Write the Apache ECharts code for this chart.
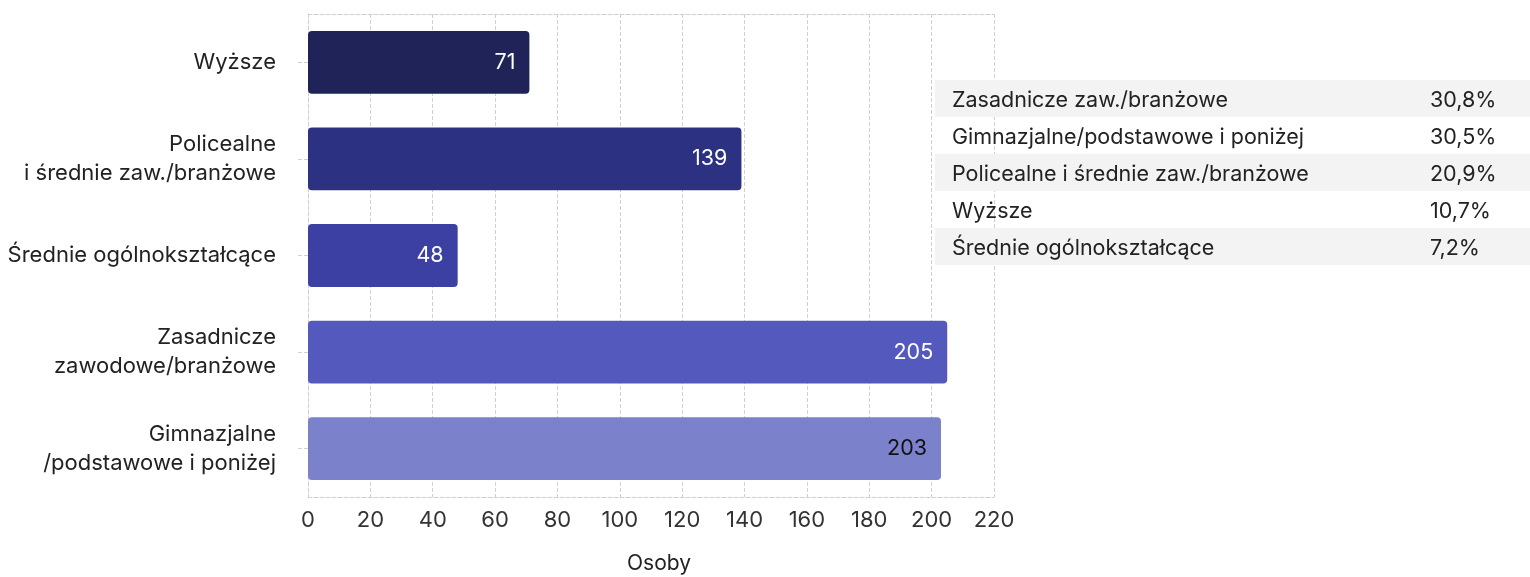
<!DOCTYPE html>
<html>
<head>
<meta charset="utf-8">
<script src="https://cdn.jsdelivr.net/npm/echarts@6/dist/echarts.min.js"></script>
<style>
  html, body { margin: 0; padding: 0; background: #fff; }
  #chart { position: absolute; left: 0; top: 0; width: 1530px; height: 577px; }
  #share { position: absolute; left: 935px; top: 80px; width: 595px; border-collapse: collapse;
    font-family: Inter, "Noto Sans", sans-serif; font-size: 21.5px; color: #222; }
  #share td { height: 37px; padding: 0; }
  #share td.name { padding-left: 17px; }
  #share td.pct { width: 100px; }
  #share tr:nth-child(odd) { background: #f3f3f3; }
</style>
</head>
<body>
<div id="chart"></div>
<table id="share"></table>
<script>
  // kategorie od góry do dołu
  const categories = [
    "Wyższe",
    "Policealne\ni średnie zaw./branżowe",
    "Średnie ogólnokształcące",
    "Zasadnicze\nzawodowe/branżowe",
    "Gimnazjalne\n/podstawowe i poniżej",
  ];
  const shortNames = [
    "Wyższe",
    "Policealne i średnie zaw./branżowe",
    "Średnie ogólnokształcące",
    "Zasadnicze zaw./branżowe",
    "Gimnazjalne/podstawowe i poniżej",
  ];
  const persons = [71, 139, 48, 205, 203];
  const barColors = ["#1f2358", "#2c3281", "#3b40a2", "#5459bd", "#7c81cb"];
  const labelColors = ["#fff", "#fff", "#fff", "#fff", "#111"];
  const xTicks = [0, 220, 20]; // min, max, interval

  const chart = echarts.init(document.getElementById("chart"));
  const dashed = { color: "#d0d0d0", type: "dashed", width: 1 };

  chart.setOption({
    textStyle: { fontFamily: "Inter" },
    grid: { left: 308, right: 536, top: 14, bottom: 80, outerBoundsMode: "none", containLabel: false },
    xAxis: [
      {
        type: "value",
        min: xTicks[0],
        max: xTicks[1],
        interval: xTicks[2],
        name: "Osoby",
        nameLocation: "middle",
        nameGap: 56,
        nameTextStyle: { fontSize: 21, color: "#222", padding: [0, 0, 0, 16] },
        axisLine: { show: true, lineStyle: dashed },
        axisTick: { show: false },
        axisLabel: { fontSize: 22, color: "#333", margin: 12 },
        splitLine: { show: true, lineStyle: dashed },
      },
      {
        type: "value",
        position: "top",
        min: xTicks[0],
        max: xTicks[1],
        axisLine: { show: true, lineStyle: dashed },
        axisTick: { show: false },
        axisLabel: { show: false },
        splitLine: { show: false },
      },
    ],
    yAxis: {
      type: "category",
      inverse: true,
      data: categories,
      axisLine: { show: true, lineStyle: dashed },
      axisTick: { show: true, length: 10, lineStyle: dashed, alignWithLabel: true },
      axisLabel: { fontSize: 22, color: "#222", margin: 32, lineHeight: 29 },
      splitLine: { show: false },
    },
    series: [
      {
        type: "bar",
        barWidth: "65%",
        data: persons.map((v, i) => ({
          value: v,
          itemStyle: { color: barColors[i], borderRadius: 4 },
          label: { color: labelColors[i] },
        })),
        label: {
          show: true,
          position: "insideRight",
          distance: 14,
          fontSize: 21.5,
        },
      },
    ],
  });

  // tabela udziałów (posortowana malejąco)
  const total = persons.reduce((a, b) => a + b, 0);
  const rows = persons
    .map((v, i) => ({ name: shortNames[i], v }))
    .sort((a, b) => b.v - a.v);
  document.getElementById("share").innerHTML = rows
    .map(r => `<tr><td class="name">${r.name}</td><td class="pct">${(r.v / total * 100).toFixed(1).replace(".", ",")}%</td></tr>`)
    .join("");

  window.addEventListener("resize", () => chart.resize());
</script>
</body>
</html>
